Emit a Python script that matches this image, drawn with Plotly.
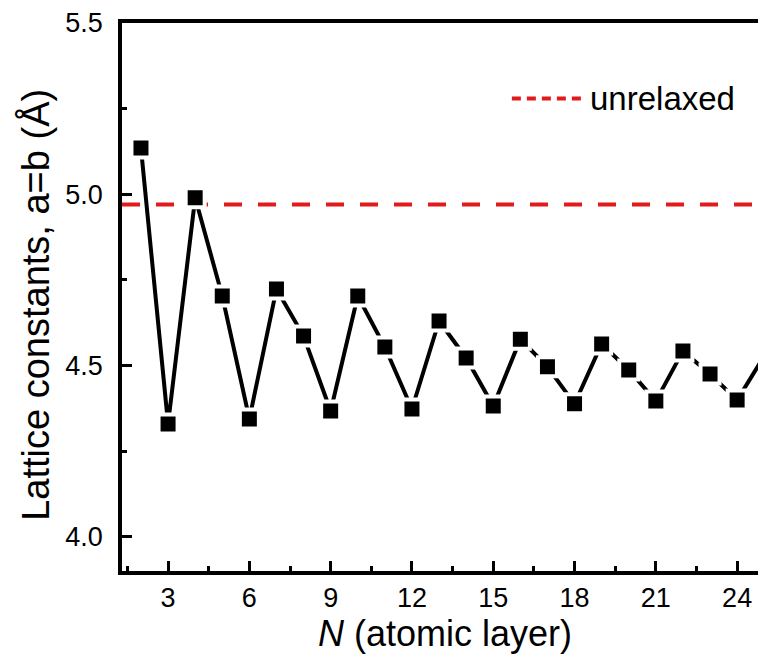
import plotly.graph_objects as go

# Data
layers = [2, 3, 4, 5, 6, 7, 8, 9, 10, 11, 12, 13, 14, 15, 16, 17, 18, 19, 20, 21, 22, 23, 24, 25]
lattice_a = [5.135, 4.329, 4.990, 4.703, 4.344, 4.723, 4.586, 4.367, 4.703, 4.554, 4.373, 4.630,
             4.522, 4.382, 4.577, 4.496, 4.388, 4.563, 4.487, 4.396, 4.542, 4.475, 4.399, 4.528]
unrelaxed_value = 4.97
legend_label = "unrelaxed"
x_title = "<i>N</i> (atomic layer)"
y_title = "Lattice constants, a=b (Å)"

FONT = "Liberation Sans, Arial, sans-serif"

fig = go.Figure()
fig.add_trace(go.Scatter(
    x=layers, y=lattice_a, mode="lines+markers",
    line=dict(color="black", width=4),
    marker=dict(symbol="square", size=19, color="black", line=dict(color="white", width=4)),
    cliponaxis=False, showlegend=False,
))

# unrelaxed reference line across the plot
fig.add_shape(type="line", xref="paper", x0=0, x1=1, yref="y", y0=unrelaxed_value, y1=unrelaxed_value,
              line=dict(color="#e31a1c", width=4, dash="18px,16px"), layer="below")

# legend (sample + text)
fig.add_shape(type="line", xref="paper", yref="paper", x0=0.613, x1=0.722, y0=0.862, y1=0.862,
              line=dict(color="#e31a1c", width=4, dash="9px,6px"))
fig.add_annotation(text=legend_label, xref="paper", yref="paper", x=0.733, y=0.862,
                   xanchor="left", yanchor="middle", showarrow=False,
                   font=dict(family=FONT, size=33, color="black"))

# axis titles
fig.add_annotation(text=x_title, xref="paper", yref="paper", x=0.508, y=-0.114,
                   xanchor="center", yanchor="middle", showarrow=False,
                   font=dict(family=FONT, size=36, color="black"))
fig.add_annotation(text=y_title, xref="paper", yref="paper", x=-0.135, y=0.486,
                   xanchor="center", yanchor="middle", textangle=-90, showarrow=False,
                   font=dict(family=FONT, size=38, color="black"))

fig.update_xaxes(
    range=[1.3, 24.77], tick0=0, dtick=3, ticks="inside", ticklen=10, tickwidth=2.5, tickcolor="black",
    showline=True, linewidth=3.5, linecolor="black", mirror=True, showgrid=False, zeroline=False,
    tickfont=dict(family=FONT, size=27, color="black"), ticklabelstandoff=0,
    minor=dict(tick0=0, dtick=1.5, ticks="inside", ticklen=5, tickwidth=2.5, tickcolor="black", showgrid=False),
)
fig.update_yaxes(
    range=[3.9, 5.5], tick0=0, dtick=0.5, tickformat=".1f", ticks="inside", ticklen=10, tickwidth=2.5,
    tickcolor="black", showline=True, linewidth=3.5, linecolor="black", mirror=False, showgrid=False,
    zeroline=False, tickfont=dict(family=FONT, size=27, color="black"), ticklabelstandoff=10,
    minor=dict(tick0=0, dtick=0.25, ticks="inside", ticklen=5, tickwidth=2.5, tickcolor="black", showgrid=False),
)

fig.update_layout(
    width=758, height=658,
    margin=dict(l=122, r=0, t=23, b=87),
    paper_bgcolor="white", plot_bgcolor="white",
    showlegend=False,
)

fig.write_html("out.html", config={"displayModeBar": False},
               post_script="document.body.style.margin='0';document.body.style.overflow='hidden';")
